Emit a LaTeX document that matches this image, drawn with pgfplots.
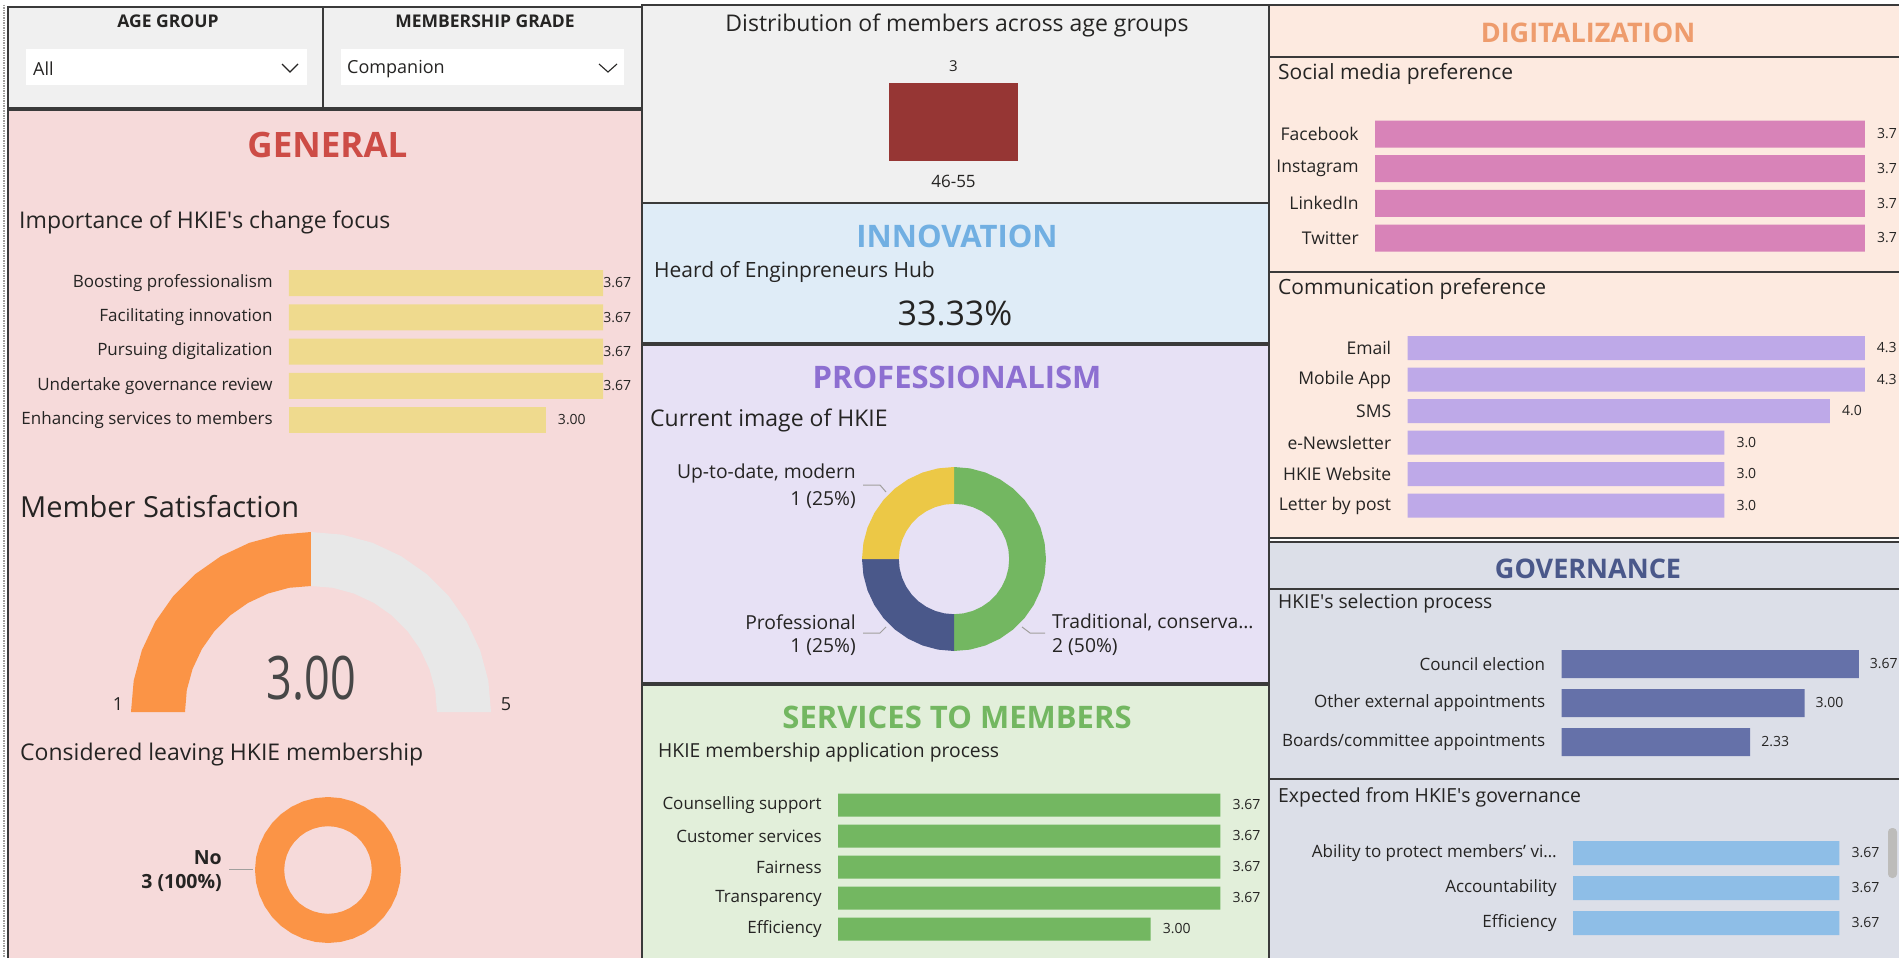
\documentclass[border=0pt]{standalone}
\usepackage{pgfplots}
\pgfplotsset{compat=1.18}
\usepackage{fontspec}
\setmainfont{Open Sans}
\usepackage{graphicx}

\definecolor{txt}{HTML}{252423}
\definecolor{bd}{HTML}{3A3A3A}
\definecolor{slbg}{HTML}{F0F0F0}
\definecolor{genbg}{HTML}{F6DADA}
\definecolor{genT}{HTML}{CD4C46}
\definecolor{ybarc}{HTML}{EFDA8E}
\definecolor{gaugeO}{HTML}{FB9446}
\definecolor{gaugeG}{HTML}{E8E8E8}
\definecolor{ageb}{HTML}{963634}
\definecolor{innbg}{HTML}{DFECF7}
\definecolor{innT}{HTML}{71AFE2}
\definecolor{probg}{HTML}{E7E1F5}
\definecolor{proT}{HTML}{8D6FD1}
\definecolor{dgreen}{HTML}{73B761}
\definecolor{dnavy}{HTML}{4A588A}
\definecolor{dyel}{HTML}{ECC846}
\definecolor{serbg}{HTML}{E2EFDA}
\definecolor{digbg}{HTML}{FDEAE0}
\definecolor{digT}{HTML}{EE9C6D}
\definecolor{pinkb}{HTML}{D883B8}
\definecolor{lavb}{HTML}{BEA9E8}
\definecolor{govbg}{HTML}{DCDFE8}
\definecolor{govb}{HTML}{6571A9}
\definecolor{ltblue}{HTML}{8EBEE7}
\definecolor{lead}{HTML}{A19F9D}

\newcommand\fs[1]{\fontsize{#1}{#1}\selectfont}
\newcommand\q{\textquotesingle}

\pgfplotsset{
  /pgf/number format/assume math mode=true,
  hb/.style={xbar, scale only axis, clip=false, y dir=reverse,
    axis lines=left, axis line style={draw=none}, tick style={draw=none},
    xmin=0, xtick=\empty, bar shift=0pt, point meta=x,
    yticklabel style={font=\fs{17}, text=txt, inner sep=0pt, anchor=east, xshift=-14pt},
    every node near coord/.append style={font=\fs{14}, text=txt, inner sep=0pt, anchor=west}},
  nnc/.style={nodes near coords={\pgfmathprintnumber[fixed,fixed zerofill,precision=#1]{\pgfplotspointmeta}}},
  ring/.style={hide axis, scale only axis, clip=false, xmin=-1, xmax=1, ymin=-1, ymax=1},
}

\begin{document}
\begin{tikzpicture}[x=1pt,y=1pt]
\useasboundingbox (0,0) rectangle (1899,-958);
% all plain drawing below uses screen pixels, y pointing down
\begin{scope}[yscale=-1]
\fill[white] (0,0) rectangle (1899,958);
\draw[lead, densely dotted, line width=1.5pt] (4,5) -- (4,958);
\fill[slbg] (8,7) rectangle (642,108);
\fill[genbg] (8,110) rectangle (642,958);
\fill[slbg] (642,5) rectangle (1269,203);
\fill[innbg] (642,203) rectangle (1269,343);
\fill[probg] (642,345) rectangle (1269,683);
\fill[serbg] (642,685) rectangle (1269,958);
\fill[digbg] (1269,5) rectangle (1899,538);
\fill[govbg] (1269,542) rectangle (1899,958);
\begin{scope}[bd, line width=2pt]
\draw (8,7) rectangle (323,108);
\draw (323,7) rectangle (642,108);
\draw (8,110) rectangle (642,960);
\draw (642,5) rectangle (1269,203);
\draw (642,203) rectangle (1269,343);
\draw (642,345) rectangle (1269,683);
\draw (642,685) rectangle (1269,960);
\draw (1269,5) rectangle (1901,538);
\draw (1269,542) rectangle (1901,960);
\draw[line width=1.5pt] (1269,57) -- (1899,57);
\draw[line width=1.5pt] (1269,272) -- (1899,272);
\draw[line width=1.5pt] (1269,589) -- (1899,589);
\draw[line width=1.5pt] (1269,779) -- (1899,779);
\end{scope}

% slicers
\fill[white] (26,49) rectangle (307,85);
\fill[white] (341,49) rectangle (624,85);
\node[font=\fs{17.5}\bfseries, text=txt] at (168,21) {AGE GROUP};
\node[font=\fs{17.5}\bfseries, text=txt] at (485,21) {MEMBERSHIP GRADE};
\node[font=\fs{18}, text=txt, anchor=west, inner sep=0pt] at (33,69) {All};
\node[font=\fs{18}, text=txt, anchor=west, inner sep=0pt] at (347,69) {Companion};
\draw[txt, line width=1.1pt] (282,64) -- (290,72) -- (298,64);
\draw[txt, line width=1.1pt] (599,64) -- (608,72) -- (617,64);

% titles and texts
\node[font=\fs{35}\bfseries, text=genT] at (327.5,145) {GENERAL};
\node[font=\fs{23}, text=txt, anchor=west, inner sep=0pt] at (19,222) {Importance of HKIE\q s change focus};
\node[font=\fs{29}, text=txt, anchor=west, inner sep=0pt] at (20,507) {Member Satisfaction};
\node[font=\fs{60}, text=black!72] at (311.5,678) {\scalebox{0.75}[1]{3.00}};
\node[font=\fs{18}, text=txt] at (118,704) {1};
\node[font=\fs{18}, text=txt] at (506,704) {5};
\node[font=\fs{23}, text=txt, anchor=west, inner sep=0pt] at (20,755) {Considered leaving HKIE membership};
\node[font=\fs{19.5}\bfseries, text=txt, anchor=east, inner sep=0pt] at (222,858) {No};
\node[font=\fs{19.5}\bfseries, text=txt, anchor=east, inner sep=0pt] at (222,883) {3 (100\%)};
\draw[lead, line width=1pt] (229,869) -- (253,869);

\node[font=\fs{23}, text=txt] at (957,25) {Distribution of members across age groups};
\node[font=\fs{31}\bfseries, text=innT] at (957,236) {INNOVATION};
\node[font=\fs{21}, text=txt, anchor=west, inner sep=0pt] at (654,272) {Heard of Enginpreneurs Hub};
\node[font=\fs{34}, text=txt] at (955,313) {33.33\%};

\node[font=\fs{31}\bfseries, text=proT] at (957,377) {PROFESSIONALISM};
\node[font=\fs{23}, text=txt, anchor=west, inner sep=0pt] at (650,420) {Current image of HKIE};
\begin{scope}[font=\fs{19.3}, text=txt, inner sep=0pt]
\node[anchor=east] at (856,473) {Up-to-date, modern};
\node[anchor=east] at (856,500) {1 (25\%)};
\node[anchor=east] at (856,622) {Professional};
\node[anchor=east] at (856,647) {1 (25\%)};
\node[anchor=west] at (1052,622) {Traditional, conserva…};
\node[anchor=west] at (1052,647) {2 (50\%)};
\end{scope}
\draw[lead, line width=1pt] (863,485) -- (880,485) -- (886,492);
\draw[lead, line width=1pt] (863,633) -- (880,633) -- (886,627);
\draw[lead, line width=1pt] (1022,627) -- (1030,633) -- (1045,633);

\node[font=\fs{31}\bfseries, text=dgreen] at (957,717) {SERVICES TO MEMBERS};
\node[font=\fs{19.3}, text=txt, anchor=west, inner sep=0pt] at (658,752) {HKIE membership application process};

\node[font=\fs{27}\bfseries, text=digT] at (1588,33) {DIGITALIZATION};
\node[font=\fs{21}, text=txt, anchor=west, inner sep=0pt] at (1278,74) {Social media preference};
\node[font=\fs{21}, text=txt, anchor=west, inner sep=0pt] at (1278,289) {Communication preference};
\node[font=\fs{27}\bfseries, text=dnavy] at (1588,569) {GOVERNANCE};
\node[font=\fs{19.2}, text=txt, anchor=west, inner sep=0pt] at (1278,604) {HKIE\q s selection process};
\node[font=\fs{19.4}, text=txt, anchor=west, inner sep=0pt] at (1278,797) {Expected from HKIE\q s governance};
\fill[lead!70, rounded corners=4pt] (1888,828) rectangle (1897,878);
\end{scope}

% ---------- GENERAL ----------
\begin{axis}[hb, nnc=2, at={(289pt,-265.875pt)}, anchor=north west,
  width=342.4pt, height=171.25pt, xmax=4, ymin=-0.5, ymax=4.5, bar width=26pt,
  ytick={0,...,4},
  yticklabels={Boosting professionalism, Facilitating innovation, Pursuing digitalization, Undertake governance review, Enhancing services to members}]
\addplot[fill=ybarc, draw=none] coordinates {(3.67,0) (3.67,1) (3.67,2) (3.67,3)};
\addplot[fill=ybarc, draw=none, every node near coord/.append style={xshift=12pt}] coordinates {(3.00,4)};
\end{axis}

% gauge: value 3.00 on a 1..5 scale -> filled from 180 to 90 degrees
\begin{axis}[hide axis, scale only axis, clip=false, at={(131pt,-712pt)}, anchor=south west,
  width=360pt, height=180pt, xmin=-1, xmax=1, ymin=0, ymax=1]
\addplot[fill=gaugeO, draw=none] coordinates {
 (-1,0) (-.985,.174) (-.940,.342) (-.866,.5) (-.766,.643) (-.643,.766) (-.5,.866) (-.342,.940) (-.174,.985) (0,1)
 (0,.7) (-.122,.690) (-.239,.658) (-.35,.606) (-.450,.536) (-.536,.450) (-.606,.35) (-.658,.239) (-.690,.122) (-.7,0)};
\addplot[fill=gaugeG, draw=none] coordinates {
 (0,1) (.174,.985) (.342,.940) (.5,.866) (.643,.766) (.766,.643) (.866,.5) (.940,.342) (.985,.174) (1,0)
 (.7,0) (.690,.122) (.658,.239) (.606,.35) (.536,.450) (.450,.536) (.35,.606) (.239,.658) (.122,.690) (0,.7)};
\end{axis}

% donut: No = 3 (100%)
\begin{axis}[ring, at={(328pt,-870pt)}, anchor=center, width=146pt, height=146pt]
\addplot[fill=gaugeO, draw=none] coordinates {
 (1,0) (.985,.174) (.940,.342) (.866,.5) (.766,.643) (.643,.766) (.5,.866) (.342,.940) (.174,.985) (0,1)
 (-.174,.985) (-.342,.940) (-.5,.866) (-.643,.766) (-.766,.643) (-.866,.5) (-.940,.342) (-.985,.174) (-1,0)
 (-.985,-.174) (-.940,-.342) (-.866,-.5) (-.766,-.643) (-.643,-.766) (-.5,-.866) (-.342,-.940) (-.174,-.985) (0,-1)
 (.174,-.985) (.342,-.940) (.5,-.866) (.643,-.766) (.766,-.643) (.866,-.5) (.940,-.342) (.985,-.174) (1,0)
 (.6,0) (.591,-.104) (.564,-.205) (.520,-.3) (.460,-.386) (.386,-.460) (.3,-.520) (.205,-.564) (.104,-.591) (0,-.6)
 (-.104,-.591) (-.205,-.564) (-.3,-.520) (-.386,-.460) (-.460,-.386) (-.520,-.3) (-.564,-.205) (-.591,-.104) (-.6,0)
 (-.591,.104) (-.564,.205) (-.520,.3) (-.460,.386) (-.386,.460) (-.3,.520) (-.205,.564) (-.104,.591) (0,.6)
 (.104,.591) (.205,.564) (.3,.520) (.386,.460) (.460,.386) (.520,.3) (.564,.205) (.591,.104) (.6,0)};
\end{axis}

% ---------- AGE DISTRIBUTION ----------
\begin{axis}[ybar, scale only axis, clip=false, at={(889pt,-161pt)}, anchor=south west,
  width=129pt, height=78pt, xmin=-0.5, xmax=0.5, ymin=0, ymax=3, bar width=129pt,
  axis lines=left, axis line style={draw=none}, tick style={draw=none},
  ytick=\empty, xtick={0}, xticklabels={46-55},
  xticklabel style={font=\fs{17}, text=txt, inner sep=0pt, yshift=-12pt},
  nodes near coords,
  every node near coord/.append style={font=\fs{15}, text=txt, inner sep=0pt, yshift=11pt}]
\addplot[fill=ageb, draw=none] coordinates {(0,3)};
\end{axis}

% ---------- PROFESSIONALISM donut: Traditional 2, Professional 1, Up-to-date 1 ----------
\begin{axis}[ring, at={(954pt,-559pt)}, anchor=center, width=184pt, height=184pt]
\addplot[fill=dgreen, draw=none] coordinates {
 (0,1) (.174,.985) (.342,.940) (.5,.866) (.643,.766) (.766,.643) (.866,.5) (.940,.342) (.985,.174) (1,0)
 (.985,-.174) (.940,-.342) (.866,-.5) (.766,-.643) (.643,-.766) (.5,-.866) (.342,-.940) (.174,-.985) (0,-1)
 (0,-.6) (.104,-.591) (.205,-.564) (.3,-.520) (.386,-.460) (.460,-.386) (.520,-.3) (.564,-.205) (.591,-.104) (.6,0)
 (.591,.104) (.564,.205) (.520,.3) (.460,.386) (.386,.460) (.3,.520) (.205,.564) (.104,.591) (0,.6)};
\addplot[fill=dnavy, draw=none] coordinates {
 (0,-1) (-.174,-.985) (-.342,-.940) (-.5,-.866) (-.643,-.766) (-.766,-.643) (-.866,-.5) (-.940,-.342) (-.985,-.174) (-1,0)
 (-.6,0) (-.591,-.104) (-.564,-.205) (-.520,-.3) (-.460,-.386) (-.386,-.460) (-.3,-.520) (-.205,-.564) (-.104,-.591) (0,-.6)};
\addplot[fill=dyel, draw=none] coordinates {
 (-1,0) (-.985,.174) (-.940,.342) (-.866,.5) (-.766,.643) (-.643,.766) (-.5,.866) (-.342,.940) (-.174,.985) (0,1)
 (0,.6) (-.104,.591) (-.205,.564) (-.3,.520) (-.386,.460) (-.460,.386) (-.520,.3) (-.564,.205) (-.591,.104) (-.6,0)};
\end{axis}

% ---------- SERVICES TO MEMBERS ----------
\begin{axis}[hb, nnc=2, at={(838pt,-789.5pt)}, anchor=north west,
  width=416.8pt, height=155pt, xmax=4, ymin=-0.5, ymax=4.5, bar width=23pt,
  every node near coord/.append style={xshift=12pt},
  ytick={0,...,4},
  yticklabels={Counselling support, Customer services, Fairness, Transparency, Efficiency}]
\addplot[fill=dgreen, draw=none] coordinates {(3.67,0) (3.67,1) (3.67,2) (3.67,3) (3.00,4)};
\end{axis}

% ---------- DIGITALIZATION ----------
\begin{axis}[hb, nnc=1, at={(1375pt,-116.67pt)}, anchor=north west,
  width=534pt, height=138.67pt, xmax=4, ymin=-0.5, ymax=3.5, bar width=27pt,
  yticklabel style={font=\fs{17.5}},
  every node near coord/.append style={xshift=12pt},
  ytick={0,...,3},
  yticklabels={Facebook, Instagram, LinkedIn, Twitter}]
\addplot[fill=pinkb, draw=none] coordinates {(3.67,0) (3.67,1) (3.67,2) (3.67,3)};
\end{axis}

\begin{axis}[hb, nnc=1, at={(1407.5pt,-332.25pt)}, anchor=north west,
  width=475.2pt, height=189pt, xmax=4.5, ymin=-0.5, ymax=5.5, bar width=24pt,
  yticklabel style={font=\fs{17.5}},
  every node near coord/.append style={xshift=12pt},
  ytick={0,...,5},
  yticklabels={Email, Mobile App, SMS, e-Newsletter, HKIE Website, Letter by post}]
\addplot[fill=lavb, draw=none] coordinates {(4.33,0) (4.33,1) (4.00,2) (3.00,3) (3.00,4) (3.00,5)};
\end{axis}

% ---------- GOVERNANCE ----------
\begin{axis}[hb, nnc=2, at={(1561.5pt,-644.5pt)}, anchor=north west,
  width=324pt, height=117pt, xmax=4, ymin=-0.5, ymax=2.5, bar width=28pt,
  every node near coord/.append style={xshift=11pt},
  ytick={0,...,2},
  yticklabels={Council election, Other external appointments, Boards/committee appointments}]
\addplot[fill=govb, draw=none] coordinates {(3.67,0) (3.00,1) (2.33,2)};
\end{axis}

\begin{axis}[hb, nnc=2, at={(1573pt,-835.5pt)}, anchor=north west,
  width=290.4pt, height=105pt, xmax=4, ymin=-0.5, ymax=2.5, bar width=24pt,
  every node near coord/.append style={xshift=12pt},
  ytick={0,...,2},
  yticklabels={Ability to protect members’ vi…, Accountability, Efficiency}]
\addplot[fill=ltblue, draw=none] coordinates {(3.67,0) (3.67,1) (3.67,2)};
\end{axis}
\end{tikzpicture}
\end{document}
